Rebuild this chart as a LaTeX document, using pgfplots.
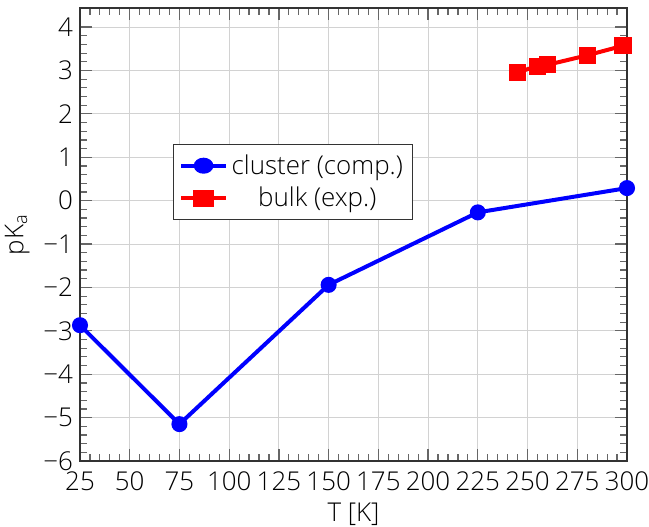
\documentclass[border=0pt]{standalone}
\usepackage{fontspec}
\setmainfont{Open Sans}[UprightFont=* Light]
\usepackage{pgfplots}
\pgfplotsset{compat=1.18}

\begin{document}
\begin{tikzpicture}
\begin{axis}[
  scale only axis,
  width=273.5bp, height=226.5bp,
  xmin=25, xmax=300,
  ymin=-6, ymax=4.44,
  xtick={25,50,...,300},
  ytick={-6,-5,...,4},
  yticklabels={−6,−5,−4,−3,−2,−1,0,1,2,3,4},
  minor x tick num=4,
  minor y tick num=4,
  tickpos=both,
  tick align=inside,
  grid=major,
  grid style={line width=0.5bp, draw=gray!35},
  axis line style={line width=0.7bp, draw=black!80},
  major tick length=6bp,
  minor tick length=3.5bp,
  every tick/.append style={draw=black!60, line width=0.6bp},
  every minor tick/.append style={draw=black!60, line width=0.6bp},
  tick label style={font=\fontsize{13}{15}\selectfont},
  xticklabel style={yshift=-2bp},
  /pgf/number format/assume math mode=true,
  label style={font=\fontsize{13}{15}\selectfont},
  xlabel={T [K]},
  xlabel style={yshift=1bp},
  ylabel={pK\textsubscript{a}},
  ylabel style={yshift=0bp},
  legend style={
    at={(0.17,0.70)}, anchor=north west,
    font=\fontsize{13}{15}\selectfont,
    draw=black!80, line width=0.5bp,
    inner sep=3pt, row sep=1pt,
  },
  legend cell align=center,
  legend image post style={xscale=1.3},
]
\addplot[blue, line width=2bp, mark=*, mark size=3bp]
  coordinates{(25,-2.87)(75,-5.15)(150,-1.94)(225,-0.27)(300,0.29)};
\addlegendentry{cluster (comp.)}
\addplot[red, line width=2bp, mark=square*, mark size=3.3bp]
  coordinates{(245,2.96)(255,3.10)(260,3.13)(280,3.35)(298,3.57)};
\addlegendentry{bulk (exp.)}
\end{axis}
\pgfresetboundingbox
\path[use as bounding box]
  ([xshift=-40bp,yshift=-32.5bp]current axis.south west)
  rectangle ([xshift=11bp,yshift=4bp]current axis.north east);
\end{tikzpicture}
\end{document}
